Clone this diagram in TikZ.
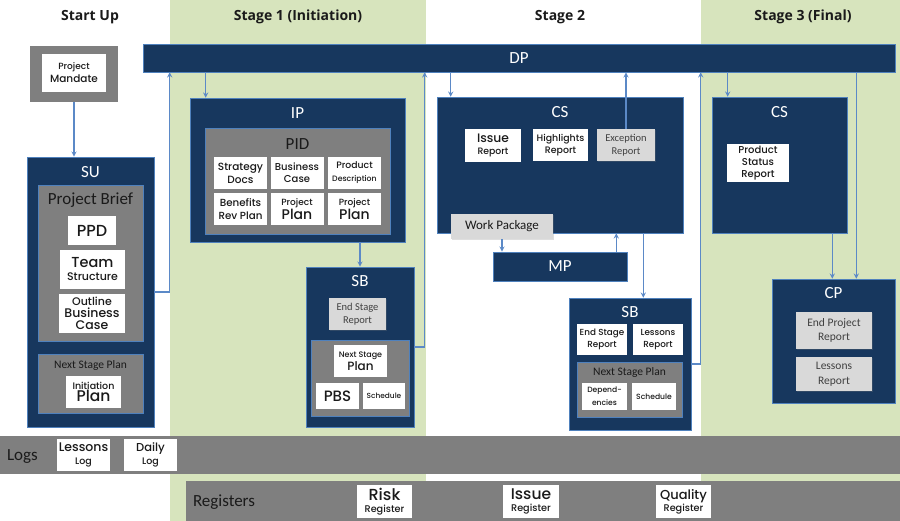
\documentclass[tikz,border=0pt]{standalone}
\usepackage{fontspec}
\setmainfont{Carlito}
\newfontfamily\gothic{Poppins Medium}
\newfontfamily\headfont{Open Sans}
\usetikzlibrary{positioning,shadows}

\definecolor{navy}{HTML}{17375E}
\definecolor{rim}{HTML}{4F81BD}
\definecolor{linkblue}{HTML}{5B89C7}
\definecolor{midgray}{HTML}{7F7F7F}
\definecolor{paper}{HTML}{D9D9D9}
\definecolor{stagegreen}{HTML}{D7E4BD}
\definecolor{ink}{HTML}{1A1A1A}

\newcommand\fs[1]{\fontsize{#1}{#1}\selectfont}

\begin{document}
\begin{tikzpicture}[x=1pt, y=-1pt, >=stealth, semithick,
    proc/.style={draw=rim, line width=0.6pt, fill=navy, inner sep=0pt},
    grp/.style={draw=rim, line width=0.5pt, fill=midgray, inner sep=0pt},
    doc/.style={fill=white, inner sep=0pt, align=center, text=ink, font=\gothic},
    rep/.style={fill=paper, inner sep=0pt, align=center, text=black!75,
        drop shadow={opacity=0.25, shadow xshift=0.8pt, shadow yshift=-0.8pt}},
    ttl/.style={text=white, font=\fs{17}, inner sep=0pt, text height=11pt, text depth=0pt},
    gttl/.style={text=ink, inner sep=0pt, text depth=0pt},
    head/.style={font=\headfont\bfseries\fs{14}, text=ink},
    bar/.style={fill=midgray, inner sep=0pt},
    bartxt/.style={font=\fs{17}, text=ink, inner sep=0pt, text height=11pt, text depth=0pt},
    conn/.style={->, draw=linkblue, line width=1.3pt}]

    \useasboundingbox (0,0) rectangle (900,521);

    % Stage bands
    \fill[stagegreen] (170,0) rectangle (426,521);
    \fill[stagegreen] (701,0) rectangle (900,521);

    % Headings
    \node[head] (hsu) at (90,17) {Start Up};
    \node[head] (hs1) at (298,17) {Stage 1 (Initiation)};
    \node[head] (hs2) at (560,17) {Stage 2};
    \node[head] (hs3) at (803,17) {Stage 3 (Final)};

    % Directing a project
    \node[proc, text=white, font=\fs{17}, minimum width=752, minimum height=28] (DP) at (519,58) {DP};

    % Start up
    \node[fill=midgray, minimum width=88, minimum height=56] (mandate) at (74,74) {};
    \node[doc, minimum width=64, minimum height=38] (mandatedoc) at (74,73) {\fs{9}Project\\[1pt]\fs{10.5}Mandate};
    \node[proc, minimum width=127, minimum height=270] (SU) at (90.5,292) {};
    \node[ttl, below=10pt of SU.north] (SUt) {SU};
    \node[grp, minimum width=105, minimum height=156] (brief) at (90.5,263) {};
    \node[gttl, font=\fs{17}, text height=11pt, below=8pt of brief.north] (brieft) {Project Brief};
    \node[doc, minimum width=48, minimum height=29] (ppd) at (92,230.5) {\fs{16}PPD};
    \node[doc, minimum width=65, minimum height=39] (team) at (92.5,269.5) {\fs{14.5}Team\\[1pt]\fs{11}Structure};
    \node[doc, minimum width=66, minimum height=39] (obc) at (92,313.5) {\fs{11}Outline\\\fs{12.5}Business\\\fs{12.5}Case};
    \node[grp, minimum width=105, minimum height=59] (sunsp) at (90.5,383.5) {};
    \node[gttl, font=\fs{11.5}, text height=7.5pt, below=7pt of sunsp.north] (sunspt) {Next Stage Plan};
    \node[doc, minimum width=55, minimum height=32] (initplan) at (93.5,392) {\fs{9.5}Initiation\\\fs{15.5}Plan};

    % Stage 1
    \node[proc, minimum width=215, minimum height=144] (IP) at (297.5,170) {};
    \node[ttl, below=10pt of IP.north] (IPt) {IP};
    \node[grp, minimum width=185, minimum height=106] (PID) at (297.5,181) {};
    \node[gttl, font=\fs{17}, text height=11pt, below=10pt of PID.north] (PIDt) {PID};
    \node[doc, minimum width=53, minimum height=32] (strat) at (240.5,173) {\fs{10.5}Strategy\\[1pt]\fs{10.5}Docs};
    \node[doc, minimum width=53, minimum height=32] (bcase) at (297,173) {\fs{10}Business\\\fs{10}Case};
    \node[doc, minimum width=53, minimum height=32] (pdesc) at (354.5,173) {\fs{9.3}Product\\[1pt]\fs{7.8}Description};
    \node[doc, minimum width=53, minimum height=32] (brp) at (240.5,209) {\fs{10.3}Benefits\\[1pt]\fs{10.3}Rev Plan};
    \node[doc, minimum width=53, minimum height=32] (pplanA) at (297,209) {\fs{9}Project\\\fs{14}Plan};
    \node[doc, minimum width=53, minimum height=32] (pplanB) at (354.5,209) {\fs{9}Project\\\fs{14}Plan};

    \node[proc, minimum width=108, minimum height=160] (SBa) at (360,347) {};
    \node[ttl, below=9pt of SBa.north] (SBat) {SB};
    \node[rep, font=\fs{10.5}, minimum width=57, minimum height=32] (esrA) at (357.5,314) {End Stage\\[2pt]Report};
    \node[grp, minimum width=98, minimum height=76] (nspA) at (360,378) {};
    \node[doc, minimum width=53, minimum height=32] (nspdoc) at (360.5,361) {\fs{8}Next Stage\\[1pt]\fs{12}Plan};
    \node[doc, minimum width=43, minimum height=26] (pbs) at (337.5,396) {\fs{15}PBS};
    \node[doc, minimum width=42, minimum height=26] (schedA) at (384,396) {\fs{7.4}Schedule};

    % Stage 2
    \node[proc, minimum width=246, minimum height=136] (CSb) at (560,165) {};
    \node[ttl, below=10pt of CSb.north] (CSbt) {CS};
    \node[doc, minimum width=56, minimum height=33] (issrep) at (493,145.5) {\fs{12.3}Issue\\\fs{9.3}Report};
    \node[doc, minimum width=55, minimum height=32] (hlrep) at (560.5,145) {\fs{9.4}Highlights\\\fs{9.4}Report};
    \node[rep, font=\fs{10.5}, minimum width=58, minimum height=32] (exc) at (626,145) {Exception\\[2pt]Report};
    \node[rep, font=\fs{13}, text=ink, minimum width=102, minimum height=25] (wp) at (502,226.5) {Work Package};
    \node[proc, text=white, font=\fs{17}, minimum width=134, minimum height=29] (MP) at (560,266.5) {MP};

    \node[proc, minimum width=122, minimum height=132] (SBb) at (630,364) {};
    \node[ttl, below=9pt of SBb.north] (SBbt) {SB};
    \node[doc, minimum width=50, minimum height=31] (esrB) at (602,339.5) {\fs{8.8}End Stage\\\fs{8.8}Report};
    \node[doc, minimum width=50, minimum height=31] (lrepB) at (658,339.5) {\fs{8.8}Lessons\\\fs{8.8}Report};
    \node[grp, minimum width=105, minimum height=55] (nspB) at (629.5,389.5) {};
    \node[gttl, font=\fs{11.5}, text height=7.5pt, below=6pt of nspB.north] (nspBt) {Next Stage Plan};
    \node[doc, minimum width=45, minimum height=27] (deps) at (604.5,396.5) {\fs{7.6}Depend-\\[1pt]\fs{7.6}encies};
    \node[doc, minimum width=44, minimum height=27] (schedB) at (654,396.5) {\fs{7.6}Schedule};

    % Stage 3
    \node[proc, minimum width=135, minimum height=136] (CSc) at (779.5,165) {};
    \node[ttl, below=10pt of CSc.north] (CSct) {CS};
    \node[doc, minimum width=62, minimum height=38] (psr) at (758,163) {\fs{10}Product\\\fs{10}Status\\\fs{10}Report};
    \node[proc, minimum width=123, minimum height=124] (CP) at (833.5,341) {};
    \node[ttl, below=9pt of CP.north] (CPt) {CP};
    \node[rep, font=\fs{11.5}, minimum width=76, minimum height=37] (eprep) at (834,330.5) {End Project\\[3pt]Report};
    \node[rep, font=\fs{11.5}, minimum width=76, minimum height=34] (lrepC) at (834,374) {Lessons\\[3pt]Report};

    % Logs and registers
    \node[bar, minimum width=900, minimum height=38] (logs) at (450,455) {};
    \node[bartxt, right=7pt of logs.west] (logst) {Logs};
    \node[doc, minimum width=53, minimum height=32] (lessonslog) at (83.5,455) {\fs{12.5}Lessons\\[1pt]\fs{9.5}Log};
    \node[doc, minimum width=53, minimum height=32] (dailylog) at (150.5,455) {\fs{11.5}Daily\\[1pt]\fs{9.5}Log};
    \node[bar, minimum width=714, minimum height=40] (regs) at (543,501) {};
    \node[bartxt, right=7pt of regs.west] (regst) {Registers};
    \node[doc, minimum width=55, minimum height=33] (riskreg) at (384.5,501.5) {\fs{16}Risk\\\fs{9.7}Register};
    \node[doc, minimum width=56, minimum height=33] (issreg) at (531,501.5) {\fs{15.5}Issue\\\fs{9.7}Register};
    \node[doc, minimum width=55, minimum height=33] (qualreg) at (683.5,501.5) {\fs{13}Quality\\\fs{9.7}Register};

    % Connections
    \coordinate (busA) at ([xshift=27pt]DP.south west);
    \coordinate (busB) at ([xshift=282pt]DP.south west);
    \coordinate (busC) at ([xshift=558pt]DP.south west);
    \coordinate (ipin) at ([xshift=16pt]IP.north west);
    \coordinate (csbin) at ([xshift=14pt]CSb.north west);
    \coordinate (cscin) at ([xshift=16pt]CSc.north west);
    \coordinate (cpin) at ([xshift=-39pt]CP.north east);
    \coordinate (mpout) at ([xshift=-11pt]MP.north east);
    \coordinate (csbout) at ([xshift=-40pt]CSb.south east);
    \coordinate (cscout) at ([xshift=-15pt]CSc.south east);

    \draw[conn] (mandate.south) -- (mandate.south |- SU.north);
    \draw[conn] (SU.east) -| (busA);
    \draw[conn] (ipin |- DP.south) -- (ipin);
    \draw[conn] (IP.south -| SBa.north) -- (SBa.north);
    \draw[conn] (SBa.east) -| (busB);
    \draw[conn] (csbin |- DP.south) -- (csbin);
    \draw[conn] (exc.north) -- (exc.north |- DP.south);
    \draw[conn] (wp.south) -- (wp.south |- MP.north);
    \draw[conn] (mpout) -- (mpout |- CSb.south);
    \draw[conn] (csbout) -- (csbout |- SBb.north);
    \draw[conn] (SBb.east) -| (busC);
    \draw[conn] (cscin |- DP.south) -- (cscin);
    \draw[conn] (cscout) -- (cscout |- CP.north);
    \draw[conn] (cpin |- DP.south) -- (cpin);

\end{tikzpicture}
\end{document}
